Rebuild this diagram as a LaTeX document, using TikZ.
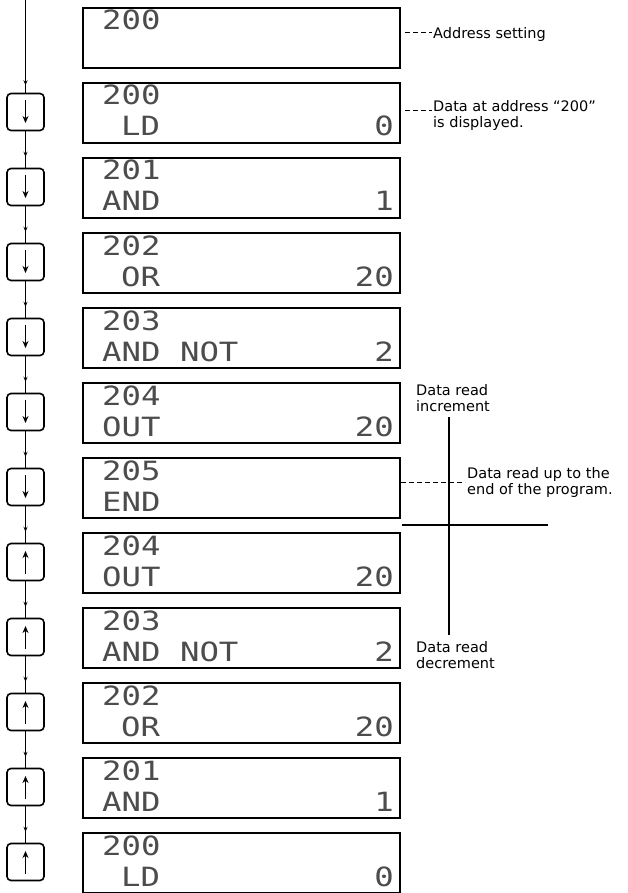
\documentclass[tikz,border=0pt]{standalone}
\usepackage{fontspec}
\setmainfont{DejaVu Sans}
\newfontfamily\lcdfont[FakeStretch=1.22]{DejaVu Sans Mono}
\usetikzlibrary{arrows.meta,decorations.markings}
\tikzset{
  disp/.style={draw, line width=1.8pt, minimum width=317pt, minimum height=60pt, inner sep=0pt, anchor=north west},
  keybox/.style={draw, line width=1.6pt, rounded corners=4pt, minimum size=37pt, inner sep=0pt},
  lcd/.style={font=\lcdfont\fontsize{26.5}{26.5}\selectfont, text=black!70, inner sep=0pt},
  note/.style={font=\fontsize{14.5}{16}\selectfont, inner sep=0pt, align=left, anchor=north west},
  flow/.style={line width=1.1pt, postaction={decorate}, decoration={markings, mark=at position #1 with {\arrow{Stealth[length=5pt,width=4pt]}}}},
  flow/.default=0.7,
  keyarrow/.style={line width=1.1pt, -{Stealth[length=7pt,width=6pt]}},
  leader/.style={line width=1pt, dash pattern=on 5pt off 3pt},
  guide/.style={line width=1.3pt},
}
\begin{document}
\begin{tikzpicture}[x=1pt,y=-1pt]
\useasboundingbox (0,0) rectangle (628,893);

% display boxes
\foreach \i in {0,...,11} { \node[disp] (d\i) at (82,{7+75*\i}) {}; }

% addresses (row 1)
\node[lcd, anchor=base west] (a0)  at (102,30)  {200};
\node[lcd, anchor=base west] (a1)  at (102,105) {200};
\node[lcd, anchor=base west] (a2)  at (102,180) {201};
\node[lcd, anchor=base west] (a3)  at (102,255) {202};
\node[lcd, anchor=base west] (a4)  at (102,330) {203};
\node[lcd, anchor=base west] (a5)  at (102,405) {204};
\node[lcd, anchor=base west] (a6)  at (102,480) {205};
\node[lcd, anchor=base west] (a7)  at (102,555) {204};
\node[lcd, anchor=base west] (a8)  at (102,630) {203};
\node[lcd, anchor=base west] (a9)  at (102,705) {202};
\node[lcd, anchor=base west] (a10) at (102,780) {201};
\node[lcd, anchor=base west] (a11) at (102,855) {200};

% instructions (row 2)
\node[lcd, anchor=base west] (i1)  at (121,136) {LD};
\node[lcd, anchor=base west] (i2)  at (102,211) {AND};
\node[lcd, anchor=base west] (i3)  at (121,286) {OR};
\node[lcd, anchor=base west] (i4)  at (102,361) {AND NOT};
\node[lcd, anchor=base west] (i5)  at (102,436) {OUT};
\node[lcd, anchor=base west] (i6)  at (102,511) {END};
\node[lcd, anchor=base west] (i7)  at (102,586) {OUT};
\node[lcd, anchor=base west] (i8)  at (102,661) {AND NOT};
\node[lcd, anchor=base west] (i9)  at (121,736) {OR};
\node[lcd, anchor=base west] (i10) at (102,811) {AND};
\node[lcd, anchor=base west] (i11) at (121,886) {LD};

% values (row 2, right aligned)
\node[lcd, anchor=base east] (v1)  at (394,136) {0};
\node[lcd, anchor=base east] (v2)  at (394,211) {1};
\node[lcd, anchor=base east] (v3)  at (394,286) {20};
\node[lcd, anchor=base east] (v4)  at (394,361) {2};
\node[lcd, anchor=base east] (v5)  at (394,436) {20};
\node[lcd, anchor=base east] (v7)  at (394,586) {20};
\node[lcd, anchor=base east] (v8)  at (394,661) {2};
\node[lcd, anchor=base east] (v9)  at (394,736) {20};
\node[lcd, anchor=base east] (v10) at (394,811) {1};
\node[lcd, anchor=base east] (v11) at (394,886) {0};

% keys
\foreach \i in {1,...,11} { \node[keybox] (k\i) at (25.5,{37+75*\i}) {}; }
\foreach \i in {1,...,6} { \draw[keyarrow] ([yshift=12pt]k\i.center) -- ([yshift=-11pt]k\i.center); }
\foreach \i in {7,...,11} { \draw[keyarrow] ([yshift=-12pt]k\i.center) -- ([yshift=11pt]k\i.center); }

% flow line
\coordinate (start) at (25.5,0);
\draw[flow=0.92] (start) -- (k1.north);
\foreach \i [evaluate=\i as \j using int(\i+1)] in {1,...,10} { \draw[flow] (k\i.south) -- (k\j.north); }

% annotations
\node[note] (n0) at (433,27) {Address setting};
\coordinate (l0) at (405,33);
\draw[leader] (l0) -- ([xshift=-1pt]l0 -| n0.west);

\node[note] (n1) at (433,100) {Data at address “200”\\is displayed.};
\coordinate (l1) at (405,111);
\draw[leader] (l1) -- ([xshift=-1pt]l1 -| n1.west);

\node[note] (ninc) at (416,384) {Data read\\increment};
\node[note] (ndec) at (416,641) {Data read\\decrement};
\coordinate (vtop) at (449,417);
\coordinate (vbot) at (449,635);
\draw[guide] (vtop) -- (vbot);

\node[note] (n6) at (467,467) {Data read up to the\\end of the program.};
\coordinate (l6) at (401,482);
\draw[leader] (l6) -- ([xshift=-2pt]l6 -| n6.west);

\coordinate (hl) at (402,525);
\coordinate (hr) at (548,525);
\draw[guide, line width=1.1pt] (hl) -- (hr);
\end{tikzpicture}
\end{document}
